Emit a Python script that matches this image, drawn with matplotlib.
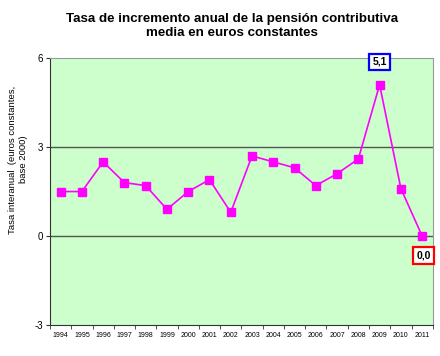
import matplotlib
matplotlib.use("Agg")
import matplotlib.pyplot as plt
import numpy as np

plt.rcParams['font.family'] = ['Liberation Sans', 'DejaVu Sans']

years = ['1994', '1995', '1996', '1997', '1998', '1999', '2000', '2001', '2002',
         '2003', '2004', '2005', '2006', '2007', '2008', '2009', '2010', '2011']
tasa = [1.5, 1.5, 2.5, 1.8, 1.7, 0.9, 1.5, 1.9, 0.8,
        2.7, 2.5, 2.3, 1.7, 2.1, 2.6, 5.1, 1.6, 0.0]
y_ticks = [-3, 0, 3, 6]

fig = plt.figure(figsize=(4.4, 3.56), dpi=100)
ax = fig.add_axes([0.1136, 0.087, 0.870, 0.750])
ax.set_facecolor('#CCFFCC')

x = np.arange(len(years))
ax.plot(x, tasa, color='#FF00FF', marker='s', markersize=6, linewidth=1.2, zorder=3)

ax.set_xlim(-0.5, len(years) - 0.5)
ax.set_ylim(-3, 6)
ax.set_yticks(y_ticks)
ax.set_yticklabels([str(v) for v in y_ticks], fontsize=7)
for v in [0, 3]:
    ax.axhline(v, color='#555555', linewidth=1.0, zorder=1)

ax.set_xticks(x)
ax.set_xticklabels(years, fontsize=5)
ax.set_xticks(np.arange(-0.5, len(years)), minor=True)
ax.tick_params(axis='x', which='major', length=0, pad=5)
ax.tick_params(axis='x', which='minor', length=3, color='#333333')
ax.tick_params(axis='y', length=3, color='#333333', pad=2)

for side in ['top', 'right']:
    ax.spines[side].set_color('#999999')
for side in ['left', 'bottom']:
    ax.spines[side].set_color('#333333')

ax.set_ylabel('Tasa interanual  (euros constantes,\nbase 2000)', fontsize=6.8)
ax.yaxis.set_label_coords(-0.058, 0.62)

fig.suptitle('Tasa de incremento anual de la pensión contributiva\nmedia en euros constantes',
             fontsize=9.6, fontweight='bold', x=0.527, y=0.964)

i_max = tasa.index(max(tasa))
i_last = len(tasa) - 1
ax.annotate('5,1', xy=(x[i_max], tasa[i_max]), xytext=(0, 16.5), textcoords='offset points',
            ha='center', va='center', fontsize=7.5, fontweight='bold',
            bbox=dict(boxstyle='square,pad=0.3', fc='white', ec='#0000FF', lw=1.6))
ax.annotate('0,0', xy=(x[i_last], tasa[i_last]), xytext=(1, -14), textcoords='offset points',
            ha='center', va='center', fontsize=7.5, fontweight='bold', annotation_clip=False,
            bbox=dict(boxstyle='square,pad=0.3', fc='white', ec='#FF0000', lw=1.6))

plt.savefig('out.png', dpi=100)
